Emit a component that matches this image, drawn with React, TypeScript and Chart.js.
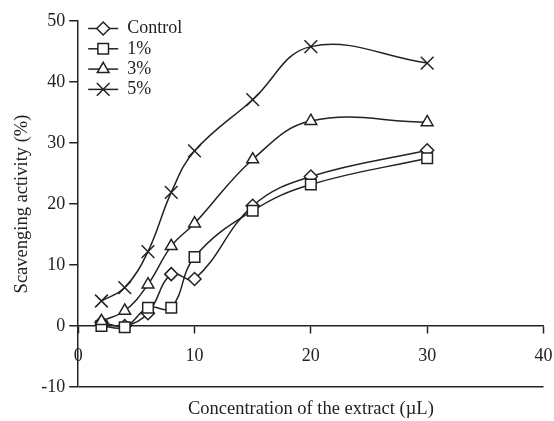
import React, { useEffect, useRef } from 'react';
import { Chart, registerables } from 'chart.js';
import { drawPoint } from 'chart.js/helpers';

Chart.register(...registerables);

const concentrations = [2, 4, 6, 8, 10, 15, 20, 30];
const controlValues = [0.6, 0, 2.1, 8.5, 7.7, 19.7, 24.5, 28.8];
const onePercentValues = [0, -0.2, 3.0, 3.0, 11.3, 18.9, 23.2, 27.5];
const threePercentValues = [0.8, 2.5, 6.8, 13.1, 16.8, 27.3, 33.6, 33.4];
const fivePercentValues = [4.1, 6.3, 12.2, 21.9, 28.7, 37.1, 45.8, 43.1];
const seriesLabels = ['Control', '1%', '3%', '5%'];
const seriesValues = [controlValues, onePercentValues, threePercentValues, fivePercentValues];
const xAxisTitle = 'Concentration of the extract (\u00b5L)';
const yAxisTitle = 'Scavenging activity (%)';

const INK = '#222222';
const FONT = "'Liberation Serif', 'Times New Roman', serif";
const pointStyles = ['rectRot', 'rect', 'triangle', 'crossRot'];
const pointSizes = [6.5, 7.5, 6.8, 9];
const drawOrder = [3, 2, 1, 0];

const textPlugin = {
  id: 'customText',
  afterDraw(chart: any) {
    const { ctx, chartArea } = chart;
    ctx.save();
    ctx.fillStyle = INK;
    ctx.font = `18.5px ${FONT}`;
    ctx.textAlign = 'center';
    ctx.textBaseline = 'middle';
    ctx.fillText(xAxisTitle, (chartArea.left + chartArea.right) / 2, 409);

    // legend
    const lx = chartArea.left + 10;
    chart.data.datasets.forEach((ds: any, i: number) => {
      const y = chartArea.top + 7.5 + i * 20.3;
      ctx.strokeStyle = INK;
      ctx.lineWidth = 1.5;
      ctx.beginPath();
      ctx.moveTo(lx, y);
      ctx.lineTo(lx + 30, y);
      ctx.stroke();
      ctx.fillStyle = '#ffffff';
      ctx.strokeStyle = INK;
      ctx.lineWidth = 1.5;
      drawPoint(ctx, { pointStyle: pointStyles[i], radius: pointSizes[i], rotation: 0, borderWidth: 1.5 } as any, lx + 15, y);
      ctx.fillStyle = INK;
      ctx.font = `18px ${FONT}`;
      ctx.textAlign = 'left';
      ctx.fillText(ds.label, lx + 39, y);
    });
    ctx.restore();
  },
};

export default function App() {
  const canvasRef = useRef<HTMLCanvasElement | null>(null);

  useEffect(() => {
    if (!canvasRef.current) return;
    const datasets = seriesLabels.map((label, i) => ({
      label,
      data: concentrations.map((x, j) => ({ x, y: seriesValues[i][j] })),
      borderColor: INK,
      backgroundColor: '#ffffff',
      borderWidth: 1.5,
      pointStyle: pointStyles[i],
      pointRadius: pointSizes[i],
      pointBorderWidth: 1.5,
      pointBackgroundColor: '#ffffff',
      pointBorderColor: INK,
      showLine: true,
      tension: 0.4,
      order: drawOrder[i],
    }));

    const chart = new Chart(canvasRef.current, {
      type: 'scatter',
      data: { datasets },
      plugins: [textPlugin],
      options: {
        animation: false,
        responsive: true,
        maintainAspectRatio: false,
        layout: { padding: { left: 11, top: 21, right: 10, bottom: 34 } },
        plugins: { legend: { display: false }, tooltip: { enabled: false } },
        scales: {
          x: {
            type: 'linear',
            position: { y: 0 } as any,
            min: 0,
            max: 40,
            ticks: { stepSize: 10, color: INK, font: { family: FONT, size: 18 }, padding: 12, maxRotation: 0 },
            grid: { drawOnChartArea: false, drawTicks: true, tickLength: 7, tickColor: INK, tickWidth: 1.5 },
            border: { display: true, color: INK, width: 1.5 },
            afterFit: (scale: any) => {
              scale.paddingRight = 0;
              scale.paddingLeft = 0;
            },
          },
          y: {
            type: 'linear',
            position: 'left',
            min: -10,
            max: 50,
            ticks: { stepSize: 10, color: INK, font: { family: FONT, size: 18 }, padding: 4 },
            grid: {
              drawOnChartArea: true,
              drawTicks: true,
              tickLength: 9,
              tickColor: INK,
              tickWidth: 1.5,
              lineWidth: 1.5,
              color: (c: any) => (c.tick && c.tick.value === -10 ? INK : 'rgba(0,0,0,0)'),
            },
            border: { display: true, color: INK, width: 1.5 },
            title: { display: true, text: yAxisTitle, color: INK, font: { family: FONT, size: 18.5 }, padding: { top: 0, bottom: 4 } },
          },
        },
      },
    });
    return () => chart.destroy();
  }, []);

  return (
    <div style={{ position: 'fixed', left: 0, top: 0, width: 554, height: 421, background: '#fff' }}>
      <canvas ref={canvasRef} />
    </div>
  );
}
